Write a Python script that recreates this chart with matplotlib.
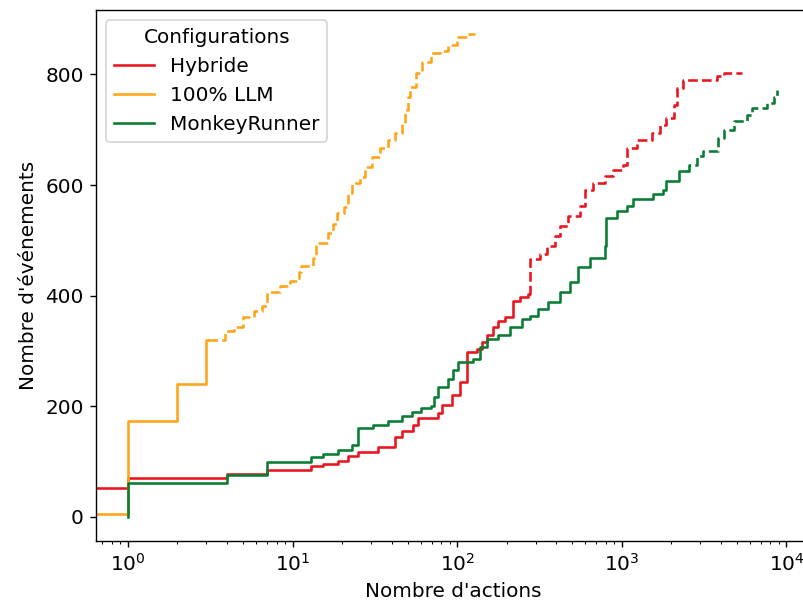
import numpy as np
import matplotlib
matplotlib.use('Agg')
import matplotlib.pyplot as plt

# Cumulative number of events vs number of actions
hyb_x = [0, 1, 4, 7, 13, 15.4, 19, 21.8, 25, 33, 42, 46, 54, 58, 77, 81, 93, 104,
         115, 132, 142, 151, 165, 177, 195, 218, 241, 268, 277, 318, 351, 393, 421,
         471, 556, 597, 667, 789, 882, 1014, 1072, 1233, 1517, 1700, 1866, 2090,
         2180, 2340, 3770, 4200, 5400]
hyb_y = [52, 71, 77, 85, 92, 96, 101, 110, 118, 126, 145, 155, 166, 178, 187, 202,
         220, 244, 299, 304, 316, 328, 343, 355, 361, 390, 397, 403, 466, 475, 490,
         508, 526, 544, 562, 592, 604, 616, 628, 637, 667, 682, 694, 709, 721, 745,
         775, 790, 797, 802, 802]
hyb_split = 275

llm_x = [0, 1, 2, 3, 3.9, 4.4, 5.0, 5.8, 6.5, 7.0, 8.4, 9.7, 10.9, 11.2, 13.4, 13.8,
         16.5, 17.7, 18.7, 20.4, 21.8, 23.1, 25.8, 27.7, 30.5, 34, 38, 42, 46, 48,
         50, 52, 56, 61, 69, 79, 88, 100, 118, 128]
llm_y = [5, 173, 240, 320, 336, 343, 361, 372, 381, 406, 417, 426, 442, 453, 469,
         496, 514, 529, 550, 561, 586, 604, 615, 633, 651, 667, 682, 694, 712, 736,
         759, 777, 802, 822, 838, 843, 853, 867, 873, 873]
llm_split = 3.05

mon_x = [1, 1, 4, 7, 13, 15.4, 19, 23, 25, 31, 38, 46, 53, 60, 69, 72, 77, 88, 95,
         101, 125, 138, 151, 177, 210, 248, 277, 310, 355, 421, 484, 541, 640, 789,
         800, 934, 1072, 1167, 1540, 1770, 1850, 2240, 2570, 2850, 3100, 3820, 4200,
         4840, 5730, 6220, 7590, 8450, 8820]
mon_y = [0, 61, 76, 100, 108, 113, 121, 130, 160, 167, 173, 183, 190, 196, 200, 217,
         235, 250, 265, 280, 286, 308, 322, 328, 343, 358, 364, 376, 388, 406, 424,
         451, 469, 490, 541, 553, 562, 574, 583, 592, 607, 625, 637, 652, 661, 685,
         700, 715, 727, 739, 748, 760, 772]
mon_split = 2500

series = [
    ('Hybride', hyb_x, hyb_y, hyb_split, '#e8161e'),
    ('100% LLM', llm_x, llm_y, llm_split, '#ffa51a'),
    ('MonkeyRunner', mon_x, mon_y, mon_split, '#0a7d34'),
]


def split_curve(xs, ys, xc):
    xs = np.asarray(xs, dtype=float)
    ys = np.asarray(ys, dtype=float)
    k = np.searchsorted(xs, xc, side='left')
    y_c = ys[k - 1]
    solid = (np.append(xs[:k], xc), np.append(ys[:k], y_c))
    dashed = (np.insert(xs[k:], 0, xc), np.insert(ys[k:], 0, y_c))
    return solid, dashed


plt.rcParams['font.size'] = 11.5

fig = plt.figure(figsize=(803 / 125, 611 / 125), dpi=125)
ax = fig.add_axes([0.1196, 0.1146, 0.889, 0.869])

for label, xs, ys, xc, color in series:
    (sx, sy), (dx, dy) = split_curve(xs, ys, xc)
    ax.plot(sx, sy, drawstyle='steps-post', color=color, label=label)
    ax.plot(dx, dy, drawstyle='steps-post', color=color, linestyle='--')

ax.set_xscale('log')
ax.set_xlim(0.64, 1.39e4)
ax.set_ylim(-43.6, 916.6)
ax.set_xlabel("Nombre d'actions")
ax.set_ylabel("Nombre d'événements")
ax.legend(title='Configurations', loc='upper left')

fig.savefig('out.png', dpi=125)
